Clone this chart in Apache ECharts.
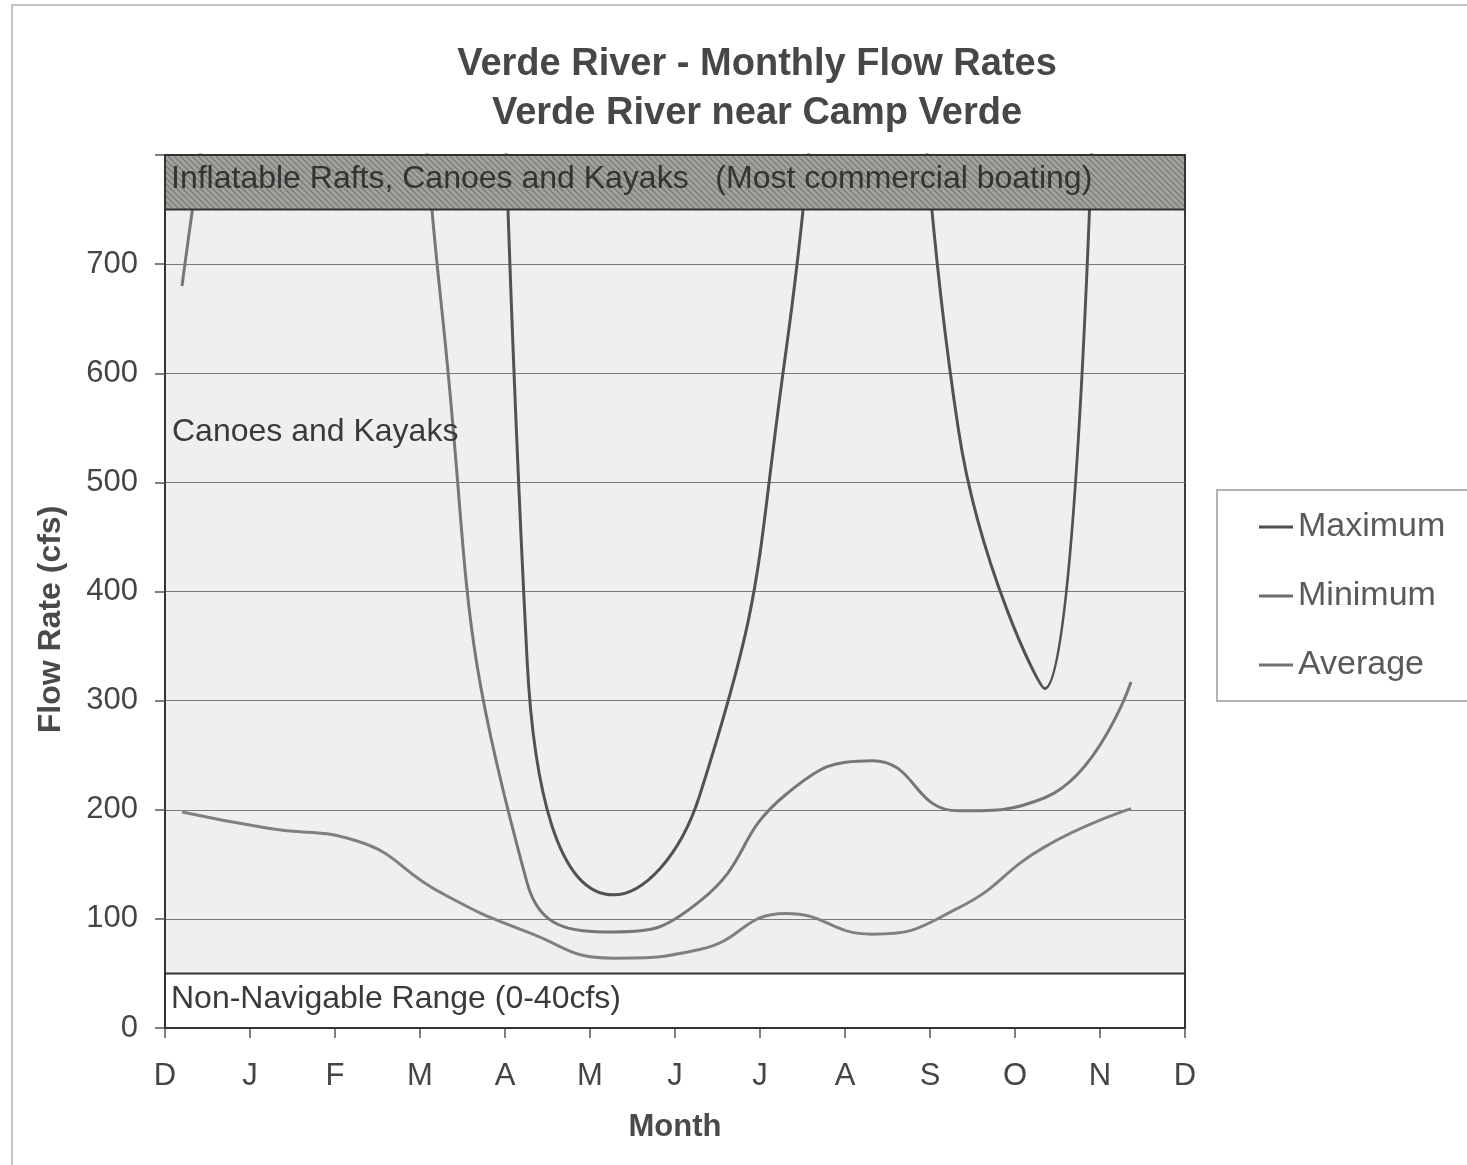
<!DOCTYPE html>
<html>
<head>
    <meta charset="utf-8">
    <title>Verde River - Monthly Flow Rates</title>
    <script src="https://cdn.jsdelivr.net/npm/echarts@6/dist/echarts.min.js"></script>
    <style>
        html, body { margin: 0; padding: 0; background: #fff; }
        #myChart { width: 1467px; height: 1165px; }
    </style>
</head>
<body>
<div id="myChart"></div>
<script>
    // month letters on the axis, D .. D
    var monthLabels = ['D', 'J', 'F', 'M', 'A', 'M', 'J', 'J', 'A', 'S', 'O', 'N', 'D'];
    // where each monthly value sits along the axis (months from the first D)
    var monthPos = [0.2, 1.215, 2.23, 3.245, 4.26, 5.275, 6.29, 7.305, 8.32, 9.335, 10.35, 11.365];
    // flow rates in cfs (values above 750 run under the top band, estimated)
    var maxFlow = [2200, 2600, 3000, 3200, 337, 122, 213, 620, 1350, 548, 311, 3500];
    var minFlow = [198, 183, 172, 124, 88, 64, 72, 105, 86, 110, 166, 201];
    var avgFlow = [680, 1200, 1600, 667, 133, 88, 116, 214, 245, 199, 211, 317];
    // navigation ranges
    var bandLow = 50, bandHigh = 750, yMax = 800;

    function pairs(vals) {
        return vals.map(function (v, i) { return [monthPos[i], v]; });
    }

    // hatch pattern for the top band
    var hatch = document.createElement('canvas');
    hatch.width = 6; hatch.height = 6;
    var hc = hatch.getContext('2d');
    hc.fillStyle = '#a1a39d';
    hc.fillRect(0, 0, 6, 6);
    hc.strokeStyle = '#7a7d77';
    hc.lineWidth = 1.4;
    hc.beginPath();
    hc.moveTo(0, 0); hc.lineTo(6, 6);
    hc.moveTo(-3, 3); hc.lineTo(3, 9);
    hc.moveTo(3, -3); hc.lineTo(9, 3);
    hc.stroke();

    var font = '"Liberation Sans", Arial, sans-serif';

    var myChart = echarts.init(document.getElementById('myChart'));
    myChart.setOption({
        animation: false,
        backgroundColor: '#fff',
        textStyle: { fontFamily: font },
        title: {
            text: 'Verde River - Monthly Flow Rates\nVerde River near Camp Verde',
            left: 752,
            top: 35,
            textAlign: 'center',
            textStyle: {
                fontFamily: font,
                fontSize: 38,
                fontWeight: 'bold',
                color: '#474747',
                lineHeight: 49
            }
        },
        graphic: [{
            type: 'rect',
            shape: { x: 12, y: 5, width: 1500, height: 1250 },
            style: { fill: 'none', stroke: '#b0b0b0', lineWidth: 1.5 },
            silent: true
        }],
        legend: {
            orient: 'vertical',
            left: 1217,
            top: 490,
            data: ['Maximum', 'Minimum', 'Average'],
            icon: 'rect',
            itemWidth: 34,
            itemHeight: 3,
            itemGap: 31,
            padding: [18, 60, 17, 42],
            borderColor: '#9a9a9a',
            borderWidth: 1.5,
            textStyle: {
                fontFamily: font,
                fontSize: 34,
                color: '#5a5a5a',
                lineHeight: 38
            }
        },
        grid: {
            left: 165,
            right: 282,
            top: 155,
            bottom: 137,
            show: true,
            backgroundColor: '#efefed',
            borderColor: '#3a3a3a',
            borderWidth: 2
        },
        xAxis: {
            type: 'value',
            min: 0,
            max: 12,
            interval: 1,
            name: 'Month',
            nameLocation: 'middle',
            nameGap: 84,
            nameTextStyle: { fontFamily: font, fontSize: 31, fontWeight: 'bold', color: '#4a4a4a' },
            axisLine: { show: true, lineStyle: { color: '#333', width: 2 } },
            axisTick: { show: true, length: 10, lineStyle: { color: '#555', width: 1.5 } },
            splitLine: { show: false },
            axisLabel: {
                margin: 33,
                fontSize: 31,
                color: '#454545',
                formatter: function (v) { return monthLabels[v]; }
            }
        },
        yAxis: {
            type: 'value',
            min: 0,
            max: yMax,
            interval: 100,
            name: 'Flow Rate (cfs)',
            nameLocation: 'middle',
            nameGap: 98,
            nameTextStyle: {
                fontFamily: font,
                fontSize: 32,
                fontWeight: 'bold',
                color: '#4a4a4a',
                padding: [0, 56, 0, 0]
            },
            axisLine: { show: true, lineStyle: { color: '#333', width: 2 } },
            axisTick: { show: true, length: 10, lineStyle: { color: '#555', width: 1.5 } },
            splitLine: { show: true, lineStyle: { color: '#7a7a7a', width: 1.2 } },
            axisLabel: {
                margin: 27,
                fontSize: 31,
                color: '#454545',
                formatter: function (v) { return v >= yMax ? '' : String(v); }
            }
        },
        series: [
            {
                name: 'Maximum',
                type: 'line',
                smooth: true,
                symbol: 'none',
                clip: true,
                z: 3,
                lineStyle: { color: '#525252', width: 3 },
                itemStyle: { color: '#4e4e4e' },
                data: pairs(maxFlow)
            },
            {
                name: 'Minimum',
                type: 'line',
                smooth: true,
                symbol: 'none',
                clip: true,
                lineStyle: { color: '#808080', width: 3 },
                itemStyle: { color: '#6e6e6e' },
                data: pairs(minFlow)
            },
            {
                name: 'Average',
                type: 'line',
                smooth: true,
                symbol: 'none',
                clip: true,
                lineStyle: { color: '#777777', width: 3 },
                itemStyle: { color: '#737373' },
                data: pairs(avgFlow)
            },
            {
                name: 'ranges',
                type: 'line',
                data: [],
                markArea: {
                    silent: true,
                    z: 5,
                    label: {
                        fontFamily: font,
                        fontSize: 32,
                        color: '#3a3a3a'
                    },
                    data: [
                        [{
                            yAxis: bandHigh,
                            name: 'Inflatable Rafts, Canoes and Kayaks   (Most commercial boating)',
                            itemStyle: { color: { image: hatch, repeat: 'repeat' }, borderColor: '#333', borderWidth: 2 },
                            label: { position: 'insideLeft', distance: 7, offset: [0, -3], color: '#333' }
                        }, { yAxis: yMax }],
                        [{
                            yAxis: bandLow,
                            name: 'Canoes and Kayaks',
                            itemStyle: { color: 'rgba(0,0,0,0)', borderWidth: 0 },
                            label: { position: 'insideTopLeft', distance: 7, offset: [0, 200] }
                        }, { yAxis: bandHigh }],
                        [{
                            yAxis: 0,
                            name: 'Non-Navigable Range (0-40cfs)',
                            itemStyle: { color: '#ffffff', borderColor: '#333', borderWidth: 2 },
                            label: { position: 'insideLeft', distance: 7, offset: [0, -2] }
                        }, { yAxis: bandLow }]
                    ]
                }
            }
        ]
    });
    window.onresize = function () {
        myChart.resize();
    };
</script>
</body>
</html>
